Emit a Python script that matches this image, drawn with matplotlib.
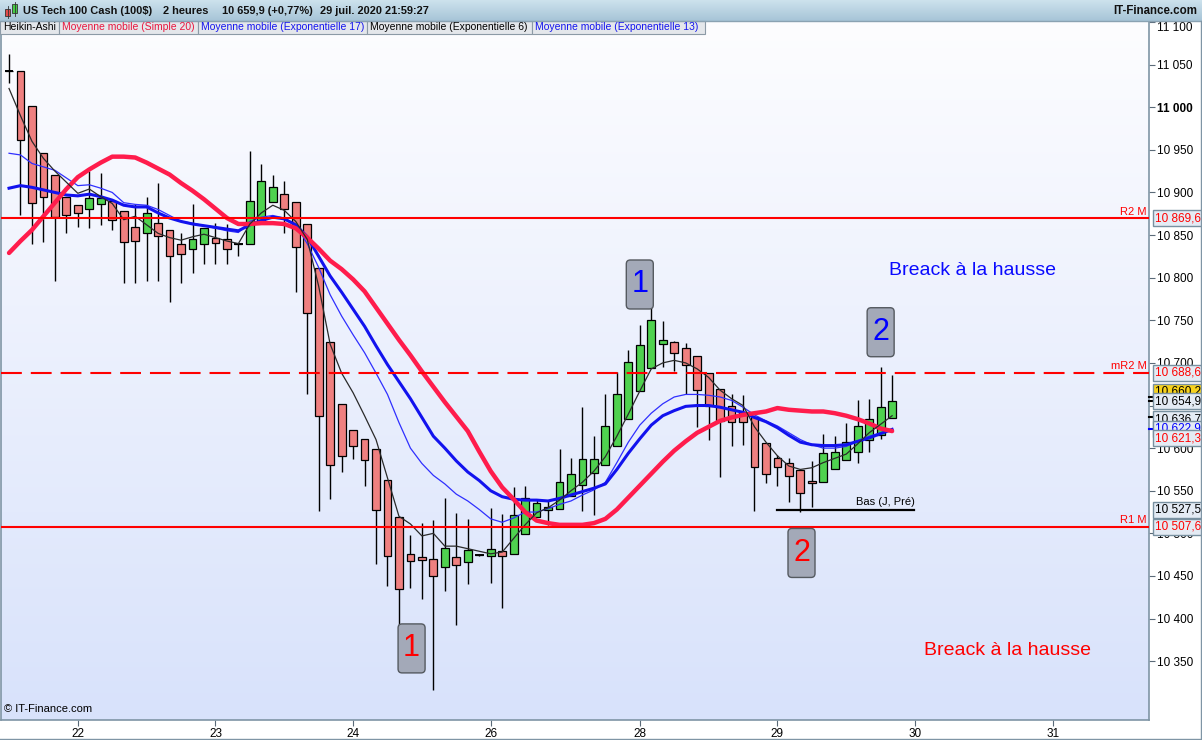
import numpy as np
import matplotlib
matplotlib.use("Agg")
import matplotlib.pyplot as plt
import matplotlib.transforms as mtransforms
from matplotlib.patches import Rectangle, FancyBboxPatch
from matplotlib.colors import LinearSegmentedColormap

plt.rcParams['font.family'] = ['Liberation Sans', 'DejaVu Sans']

# Heikin-Ashi candles, 2h, US Tech 100
opens = [11043, 11043, 11001, 10946, 10920, 10895, 10885, 10881, 10887, 10890,
         10878, 10859, 10852, 10864, 10856, 10840, 10834, 10840, 10847, 10845,
         10840, 10840, 10865, 10889, 10898, 10889, 10863, 10811, 10724, 10652,
         10621, 10611, 10599, 10563, 10519, 10476, 10472, 10470, 10460, 10472,
         10466, 10475, 10474, 10479, 10476, 10499, 10519, 10527, 10529, 10544,
         10557, 10571, 10580, 10602, 10634, 10667, 10694, 10722, 10724, 10717,
         10708, 10688, 10669, 10649, 10642, 10636, 10606, 10589, 10583, 10574,
         10561, 10560, 10576, 10586, 10596, 10610, 10615, 10635]
highs = [11063, 11043, 11001, 10946, 10920, 10895, 10885, 10925, 10923, 10890,
         10878, 10887, 10895, 10911, 10856, 10853, 10887, 10858, 10864, 10863,
         10841, 10949, 10933, 10921, 10913, 10889, 10863, 10811, 10724, 10652,
         10621, 10611, 10599, 10563, 10519, 10498, 10512, 10516, 10542, 10524,
         10517, 10476, 10530, 10523, 10554, 10555, 10540, 10538, 10599, 10589,
         10648, 10614, 10663, 10689, 10715, 10745, 10769, 10749, 10726, 10723,
         10708, 10688, 10669, 10663, 10662, 10636, 10606, 10592, 10589, 10574,
         10585, 10617, 10614, 10629, 10657, 10658, 10695, 10686]
lows = [11028, 10873, 10840, 10842, 10796, 10852, 10860, 10858, 10862, 10856,
        10794, 10794, 10796, 10796, 10772, 10794, 10806, 10816, 10816, 10816,
        10826, 10840, 10865, 10889, 10852, 10783, 10663, 10526, 10540, 10572,
        10587, 10556, 10464, 10438, 10392, 10436, 10423, 10316, 10432, 10393,
        10440, 10474, 10442, 10413, 10476, 10499, 10519, 10510, 10529, 10544,
        10526, 10522, 10580, 10602, 10634, 10667, 10694, 10695, 10691, 10663,
        10625, 10610, 10566, 10603, 10604, 10526, 10559, 10556, 10537, 10525,
        10531, 10560, 10576, 10586, 10583, 10596, 10611, 10635]
closes = [11043, 10961, 10888, 10895, 10871, 10874, 10876, 10893, 10893, 10868,
          10842, 10843, 10876, 10849, 10825, 10828, 10845, 10858, 10841, 10834,
          10840, 10890, 10914, 10906, 10881, 10836, 10759, 10638, 10580, 10591,
          10602, 10586, 10527, 10474, 10435, 10467, 10469, 10450, 10483, 10463,
          10481, 10475, 10482, 10474, 10522, 10542, 10536, 10531, 10560, 10570,
          10587, 10587, 10626, 10664, 10701, 10721, 10750, 10727, 10712, 10698,
          10668, 10649, 10632, 10631, 10631, 10578, 10570, 10578, 10567, 10547,
          10559, 10594, 10595, 10607, 10626, 10634, 10648, 10655]

# moving averages, one value per candle
sma20 = [10829, 10843, 10856, 10872, 10888, 10904, 10918, 10927, 10935, 10942,
         10942, 10941, 10935, 10928, 10921, 10911, 10902, 10892, 10881, 10870,
         10863, 10863, 10864, 10864, 10863, 10858, 10847, 10834, 10820, 10810,
         10798, 10784, 10765, 10746, 10727, 10709, 10690, 10672, 10654, 10637,
         10620, 10596, 10573, 10554, 10540, 10525, 10515, 10512, 10510, 10510,
         10510, 10512, 10517, 10528, 10542, 10556, 10570, 10584, 10597, 10608,
         10618, 10625, 10632, 10636, 10639, 10641, 10643, 10647, 10645, 10644,
         10643, 10643, 10641, 10638, 10634, 10629, 10623, 10620]
ema17 = [10905, 10908, 10906, 10903, 10900, 10897, 10896, 10898, 10895, 10891,
         10885, 10883, 10883, 10876, 10870, 10866, 10863, 10861, 10859, 10857,
         10855, 10862, 10867, 10871, 10869, 10862, 10848, 10825, 10802, 10783,
         10763, 10743, 10720, 10698, 10678, 10658, 10636, 10614, 10600, 10585,
         10572, 10562, 10550, 10543, 10540, 10539, 10539, 10538, 10541, 10545,
         10549, 10553, 10558, 10575, 10594, 10611, 10627, 10638, 10644, 10649,
         10650, 10650, 10648, 10645, 10642, 10636, 10631, 10624, 10615, 10607,
         10604, 10603, 10603, 10604, 10608, 10612, 10617, 10622]
ema13 = [10946, 10944, 10934, 10930, 10926, 10917, 10908, 10909, 10905, 10900,
         10888, 10886, 10885, 10880, 10873, 10866, 10864, 10861, 10858, 10855,
         10853, 10866, 10871, 10873, 10870, 10862, 10840, 10812, 10780, 10755,
         10733, 10712, 10688, 10663, 10630, 10600, 10582, 10568, 10558, 10546,
         10538, 10528, 10517, 10513, 10518, 10525, 10525, 10529, 10534, 10538,
         10545, 10551, 10560, 10583, 10607, 10627, 10641, 10652, 10660, 10663,
         10663, 10662, 10660, 10656, 10648, 10639, 10632, 10626, 10618, 10610,
         10604, 10600, 10600, 10602, 10608, 10614, 10618, 10622]
ema6 = [11022, 10990, 10960, 10940, 10925, 10912, 10899, 10904, 10895, 10887,
        10868, 10872, 10862, 10852, 10847, 10844, 10848, 10851, 10847, 10843,
        10840, 10863, 10876, 10885, 10879, 10866, 10845, 10790, 10722, 10688,
        10665, 10638, 10610, 10565, 10520, 10511, 10497, 10500, 10485, 10485,
        10482, 10479, 10476, 10478, 10494, 10510, 10524, 10530, 10539, 10550,
        10560, 10573, 10590, 10614, 10640, 10667, 10693, 10700, 10703, 10700,
        10693, 10683, 10668, 10658, 10650, 10625, 10607, 10591, 10579, 10575,
        10577, 10583, 10588, 10593, 10605, 10618, 10628, 10638]

day_ticks = [6, 18, 30, 42, 55, 67, 79, 91]
day_labels = ['22', '23', '24', '26', '28', '29', '30', '31']

r2 = 10869.6
mr2 = 10688.6
r1 = 10507.6
bas_jpre = 10527.5

price_labels = ['10 869,6', '10 688,6', '10 660,2', '10 654,9', '10 636,7',
                '10 622,9', '10 621,3', '10 527,5', '10 507,6']
price_label_pos = [10869.6, 10688.6, 10666.4, 10655.0, 10634.0,
                   10622.9, 10611.8, 10527.5, 10507.6]
price_label_colors = ['#ff0000', '#ff0000', 'black', 'black', 'black',
                      '#0000ff', '#ff0000', 'black', '#ff0000']
price_label_fills = ['#e4ebf4', '#e4ebf4', '#f7d21c', '#e4ebf4', '#e4ebf4',
                     '#e4ebf4', '#e4ebf4', '#e4ebf4', '#e4ebf4']
axis_marks = [10660.2, 10654.9, 10636.7, 10622.9]
axis_mark_colors = ['black', 'black', 'black', '#0000ff']

W, H = 1202, 740
fig = plt.figure(figsize=(W / 100, H / 100), dpi=100)
fig.patch.set_facecolor('white')

ax = fig.add_axes([1 / W, 20 / H, 1148 / W, 698 / H])

bg = LinearSegmentedColormap.from_list('bg', ['#fdfdff', '#d8e2fb'])
ax.imshow(np.linspace(0, 1, 256).reshape(-1, 1), cmap=bg, aspect='auto',
          extent=[0, 1, 0, 1], transform=ax.transAxes, zorder=0)

idx = np.arange(len(opens))
o = np.array(opens, dtype=float)
c = np.array(closes, dtype=float)

ax.vlines(idx, lows, highs, color='black', lw=1.0, zorder=2)
body_colors = ['#4fd24f' if cc > oo else '#ef8080' for oo, cc in zip(o, c)]
ax.bar(idx, np.abs(c - o), bottom=np.minimum(o, c), width=0.68,
       color=body_colors, edgecolor='black', linewidth=0.9, zorder=3)
doji = idx[c == o]
ax.hlines(c[doji], doji - 0.38, doji + 0.38, color='black', lw=1.4, zorder=3)

ax.plot(idx, ema13, color='#2f2fff', lw=0.9, zorder=4)
ax.plot(idx, ema17, color='#1212ee', lw=2.2, zorder=4)
ax.plot(idx, sma20, color='#ff1c4c', lw=3.2, zorder=4, solid_capstyle='round')
ax.plot(idx, ema6, color='#2a2a2a', lw=0.9, zorder=5)

ax.axhline(r2, color='#ff0000', lw=1.5, zorder=5)
ax.axhline(r1, color='#ff0000', lw=1.5, zorder=5)
ax.axhline(mr2, color='#ff0000', lw=1.5, dashes=(10, 4.3), zorder=5)
for lvl, name in [(r2, 'R2 M'), (mr2, 'mR2 M'), (r1, 'R1 M')]:
    ax.annotate(name, (0.998, lvl), xycoords=('axes fraction', 'data'),
                xytext=(0, 1), textcoords='offset points', ha='right',
                va='bottom', color='#ff0000', fontsize=8)

ax.plot([66.96, 78.95], [bas_jpre, bas_jpre], color='black', lw=1.6, zorder=5)
ax.annotate('Bas (J, Pré)', (79.0, bas_jpre), xytext=(0, 2),
            textcoords='offset points', ha='right', va='bottom', fontsize=8)

# numbered boxes
for bx, by, txt, col in [(35.1, 10365, '1', '#ff0000'), (55.0, 10792, '1', '#0000ff'),
                         (76.0, 10736, '2', '#0000ff'), (69.1, 10477, '2', '#ff0000')]:
    tr = fig.dpi_scale_trans + mtransforms.ScaledTranslation(bx, by, ax.transData)
    ax.add_patch(FancyBboxPatch((-0.135, -0.245), 0.27, 0.49,
                                boxstyle='round,pad=0,rounding_size=0.04',
                                fc='#a3a9b8', ec='#555a60', lw=1.0,
                                transform=tr, zorder=6))
    ax.text(bx, by, txt, color=col, fontsize=22, ha='center', va='center',
            zorder=7)

ax.text(76.7, 10808, 'Breack à la hausse', color='#0a0aff', fontsize=14,
        ha='left', va='center')
ax.text(79.8, 10363, 'Breack à la hausse', color='#ff0000', fontsize=14,
        ha='left', va='center')
ax.text(0.003, 0.008, '© IT-Finance.com', transform=ax.transAxes, fontsize=8,
        ha='left', va='bottom')

ax.set_xlim(-0.7, 99.4)
ax.set_ylim(10281, 11100)

yt = np.arange(10350, 11101, 50)
ax.yaxis.tick_right()
ax.set_yticks(yt)
ax.set_yticklabels([f"{v:,}".replace(',', ' ') for v in yt])
for lab, v in zip(ax.get_yticklabels(), yt):
    if v == 11000:
        lab.set_fontweight('bold')
    if v == 11100:
        lab.set_verticalalignment('top')
ax.set_xticks(day_ticks)
ax.set_xticklabels(day_labels)
ax.tick_params(axis='both', labelsize=8.5, length=4, width=0.8,
               color='#5a6a78', pad=1.5)
for side in ['left', 'right', 'bottom']:
    ax.spines[side].set_color('#7f95a5')
    ax.spines[side].set_linewidth(1.2)
ax.spines['top'].set_visible(False)

blend = mtransforms.blended_transform_factory(ax.transAxes, ax.transData)
for lvl, col in zip(axis_marks, axis_mark_colors):
    ax.plot([1.0, 1.0035], [lvl, lvl], transform=blend, color=col, lw=1.5,
            clip_on=False, zorder=9)
for txt, pos, col, fc in zip(price_labels, price_label_pos,
                             price_label_colors, price_label_fills):
    ax.text(1.0055, pos, txt, transform=blend, color=col, fontsize=8.5,
            ha='left', va='center', clip_on=False, zorder=10,
            bbox=dict(boxstyle='square,pad=0.16', fc=fc, ec='#7890a0', lw=1.0))

# header and indicator legend, drawn in pixel coordinates
ov = fig.add_axes([0, 0, 1, 1])
ov.patch.set_alpha(0)
hdr = LinearSegmentedColormap.from_list('hdr', ['#cde2ed', '#a6c4d7'])
ov.imshow(np.linspace(0, 1, 64).reshape(-1, 1), cmap=hdr, aspect='auto',
          extent=[0, W, 21, 0])
ov.plot([0, W], [21, 21], color='#8aa2b2', lw=1)
ov.add_patch(Rectangle((5, 9), 5, 7, fc='#e04a4a', ec='#333', lw=0.6))
ov.plot([7.5, 7.5], [6, 18], color='#333', lw=0.6)
ov.add_patch(Rectangle((12, 4), 5, 9, fc='#44cc44', ec='#333', lw=0.6))
ov.plot([14.5, 14.5], [2, 16], color='#333', lw=0.6)

for hx, htxt in [(23, 'US Tech 100 Cash (100$)'), (163, '2 heures'),
                 (222, '10 659,9 (+0,77%)'), (320, '29 juil. 2020 21:59:27')]:
    ov.text(hx, 11, htxt, fontsize=7.9, fontweight='bold', va='center',
            ha='left', color='#111111')
ov.text(1197, 11, 'IT-Finance.com', fontsize=8.3, fontweight='bold',
        va='center', ha='right', color='#111111')

legend_edges = [0, 59.4, 197.8, 367.4, 532, 705]
legend_texts = ['Heikin-Ashi', 'Moyenne mobile (Simple 20)',
                'Moyenne mobile (Exponentielle 17)',
                'Moyenne mobile (Exponentielle 6)',
                'Moyenne mobile (Exponentielle 13)']
legend_colors = ['black', '#e8173f', '#1414ee', 'black', '#1414ee']
for x0, x1, t, col in zip(legend_edges[:-1], legend_edges[1:],
                          legend_texts, legend_colors):
    ov.add_patch(Rectangle((x0, 21), x1 - x0, 12.5, fc='#e4e7eb',
                           ec='#8c9aa6', lw=0.8))
    ov.text(x0 + 3, 27.5, t, fontsize=7.5, color=col, va='center', ha='left')

ov.plot([0, W], [738.5, 738.5], color='#7f95a5', lw=1)
ov.plot([1201, 1201], [21, 739], color='#7f95a5', lw=1)
ov.set_xlim(0, W)
ov.set_ylim(H, 0)
ov.axis('off')

fig.savefig('out.png', dpi=100)
